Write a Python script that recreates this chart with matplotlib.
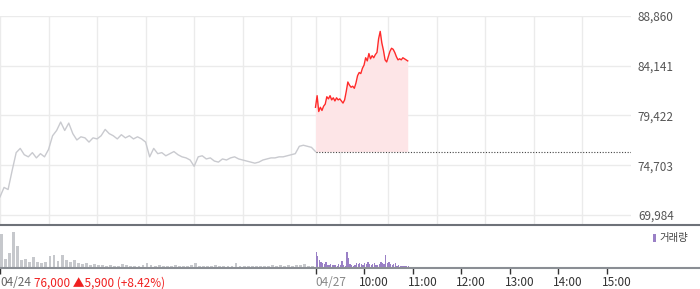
import numpy as np
import matplotlib.pyplot as plt
from matplotlib.patches import Rectangle
from matplotlib.transforms import offset_copy

plt.rcParams['font.family'] = ['Noto Sans CJK KR', 'DejaVu Sans']

# 04/24 prices, every 5 minutes from 09:00
prev_prices = [71700, 72600, 72400, 74200, 75900, 76300, 75700, 75500, 75900, 75400,
               75800, 75500, 76200, 77500, 78000, 78800, 78000, 78700, 77700, 77100,
               77400, 77300, 76900, 77300, 77200, 77500, 78100, 77700, 77500, 77200,
               77600, 77300, 77500, 77200, 77400, 77200, 76900, 75500, 76300, 75800,
               75900, 75600, 75800, 76000, 75700, 75500, 75400, 75200, 74600, 75500,
               75600, 75300, 75400, 75100, 75000, 75300, 75200, 75400, 75500, 75300,
               75200, 75100, 75000, 74900, 75000, 75200, 75300, 75400, 75400, 75500,
               75500, 75600, 75700, 75800, 76500, 76600, 76500, 76400, 76000]

# 04/27 prices, every 2 minutes from 09:00
today_prices = [80200, 81300, 79800, 80200, 79900, 80300, 80500, 81200, 81000, 81300,
                80900, 81100, 80800, 81100, 80900, 81000, 80800, 80600, 80900, 81700,
                82600, 82300, 82100, 82200, 82000, 82500, 83200, 83500, 83400, 83900,
                84200, 84900, 84600, 85300, 84800, 85100, 84900, 85200, 85400, 86700,
                87400, 86300, 85600, 84700, 84500, 85000, 85500, 85800, 85700, 85400,
                85000, 84700, 84800, 84700, 84900, 84800, 84700, 84600]

# volume (shares), same buckets
prev_vol = [34, 9, 15, 36, 22, 8, 9, 6, 11, 6, 5, 6, 12, 13, 7, 13, 8, 6, 8, 5,
            4, 5, 3, 4, 3, 3, 2, 3, 2, 2, 4, 3, 2, 2, 2, 3, 5, 3, 2, 3,
            2, 2, 2, 3, 2, 2, 2, 3, 5, 2, 2, 2, 2, 3, 2, 2, 2, 2, 5, 2,
            2, 2, 2, 2, 2, 2, 2, 3, 2, 3, 2, 3, 2, 3, 3, 4, 2, 2]
today_vol = [16, 12, 8, 6, 5, 4, 6, 3, 3, 4, 3, 3, 3, 2, 4, 3, 7, 3, 2, 16,
             10, 4, 3, 2, 3, 5, 4, 5, 4, 3, 5, 4, 6, 4, 3, 4, 5, 3, 3, 4,
             6, 5, 4, 13, 5, 6, 4, 3, 4, 5, 2, 3, 2, 2, 2, 2, 2, 2]
prev_vol = [v * 1000 for v in prev_vol]
today_vol = [v * 1000 for v in today_vol]

prev_close = 76000
y_ticks = [69984, 74703, 79422, 84141, 88860]
hour_labels = ['10:00', '11:00', '12:00', '13:00', '14:00', '15:00']

t_prev = np.arange(len(prev_prices)) * 5
t_today = 390 + np.arange(len(today_prices)) * 2
tv_prev = np.arange(len(prev_vol)) * 5
tv_today = 390 + np.arange(len(today_vol)) * 2
grid_x = list(range(0, 780, 60)) + [390]
tick_x = [0, 390] + [390 + 60 * (i + 1) for i in range(len(hour_labels))]

W, H = 700, 289
fig = plt.figure(figsize=(W / 100, H / 100), dpi=100)
ax = fig.add_axes([0, (H - 225) / H, 631 / W, 209 / H])
axv = fig.add_axes([0, (H - 268) / H, 1, 43 / H])

# price panel
for g in grid_x:
    ax.axvline(g, color='#ebebeb', lw=1, zorder=0)
for yt in y_ticks:
    ax.axhline(yt, color='#ebebeb', lw=1, zorder=0)
ax.plot(t_prev, prev_prices, color='#c9cacf', lw=1)
ax.fill_between(t_today, today_prices, prev_close, color='#fde5e7', lw=0)
ax.plot(t_today, today_prices, color='#ff2a2a', lw=1)
ax.hlines(prev_close, 390, 780, colors='#444444', linestyles=(0, (1, 1.5)), lw=0.8)
ax.set_xlim(0, 780)
ax.set_ylim(69034, 88860)
ax.set_xticks([])
ax.yaxis.tick_right()
ax.set_yticks(y_ticks)
ax.set_yticklabels([f'{v:,}' for v in y_ticks])
ax.tick_params(axis='y', length=0, pad=5, labelsize=8.5, labelcolor='#555555')
for s in ax.spines.values():
    s.set_visible(False)

# volume panel
axv.bar(tv_prev, prev_vol, width=3.5, align='edge', color='#c6c8cc', lw=0)
axv.bar(tv_today, today_vol, width=1.6, align='edge', color='#9a80c6', lw=0)
axv.set_xlim(0, 780 * W / 631)
axv.set_ylim(0, 43000)
axv.set_yticks([])
for s in ['left', 'right']:
    axv.spines[s].set_visible(False)
axv.spines['top'].set_color('#6e7279')
axv.spines['top'].set_linewidth(1.5)
axv.spines['bottom'].set_color('#8a8e94')
axv.spines['bottom'].set_linewidth(1.5)
axv.set_xticks(tick_x)
axv.set_xticklabels([])
axv.tick_params(axis='x', length=4, width=1, color='#333333')

lab_y = -15 / 43
base = axv.get_xaxis_transform()
axv.text(0, lab_y, '04/24', transform=base, ha='left', va='center',
         fontsize=8.5, color='#666666')
axv.text(390, lab_y, '04/27', transform=base, ha='left', va='center',
         fontsize=8.5, color='#888888')
shift = offset_copy(base, fig=fig, x=-5, y=0, units='dots')
for t, lab in zip(tick_x[2:], hour_labels):
    axv.text(t, lab_y, lab, transform=shift, ha='left', va='center',
             fontsize=8.5, color='#333333')
fig.text(34 / W, 1 - 283 / H, '76,000 \u25b25,900 (+8.42%)', ha='left', va='center',
         fontsize=8.5, color='#f02020')

# legend
fig.add_artist(Rectangle((653 / W, 1 - 242 / H), 3 / W, 8 / H,
                         transform=fig.transFigure, color='#9a80c6', lw=0))
fig.text(659 / W, 1 - 238 / H, '거래량', ha='left', va='center', fontsize=7.5, color='#444444')

fig.savefig('out.png', dpi=100)
